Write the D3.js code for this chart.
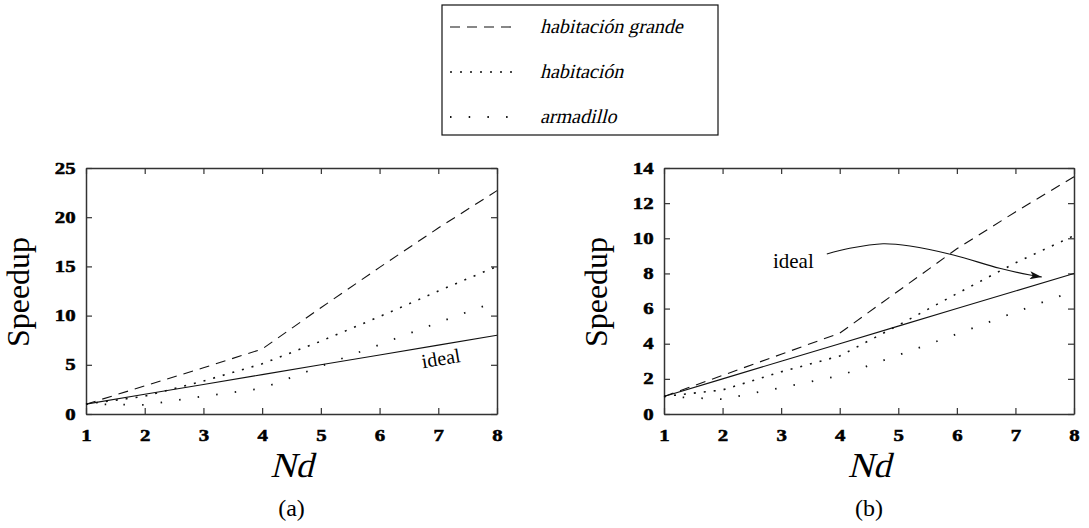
<!DOCTYPE html>
<html>
<head>
<meta charset="utf-8">
<script src="https://cdnjs.cloudflare.com/ajax/libs/d3/7.8.5/d3.min.js"></script>
<style>
    body { margin: 0; background: #fff; }
    svg { display: block; }
    svg text { font-family: "Liberation Serif", "Times New Roman", serif; }
    .frame path.domain { stroke: #333; stroke-width: 1.5; }
    .frame line { stroke: #333; stroke-width: 1.2; }
    .frame text { font-family: "Liberation Serif", serif; font-size: 16px; font-weight: bold;
                  fill: #000; stroke: #000; stroke-width: 0.5; }
</style>
</head>
<body>
<svg id="fig" width="1089" height="528"></svg>
<script>
// Nd values (x axis) shared by both panels
const nd = [1, 2, 3, 4, 5, 6, 7, 8];

// panel (a)
const idealA = [1, 2, 3, 4, 5, 6, 7, 8];
const grandeA = [1, 2.85, 4.7, 6.6, 10.8, 14.9, 18.9, 22.7];
const habA = [1, 1.8, 3.35, 5.1, 7.4, 9.9, 12.5, 15.0];
const armA = [1, 0.93, 1.8, 2.6, 4.85, 7.05, 9.3, 11.45];

// panel (b)
const idealB = [1, 2, 3, 4, 5, 6, 7, 8];
const grandeB = [1, 2.2, 3.4, 4.6, 7.0, 9.4, 11.5, 13.5];
const habB = [1, 1.37, 2.4, 3.3, 5.05, 6.85, 8.6, 10.15];
const armB = [1, 0.84, 1.5, 2.18, 3.35, 4.55, 5.8, 7.0];

const ticksA = [0, 5, 10, 15, 20, 25];
const ticksB = [0, 2, 4, 6, 8, 10, 12, 14];

const legendLabels = ["habitación grande", "habitación", "armadillo"];
const dashes = ["10,7", "2,8", "1.5,17.2"];
const widths = [1.1, 1.6, 1.8];

const svg = d3.select("#fig");

svg.append("defs").append("marker")
    .attr("id", "head")
    .attr("viewBox", "0 0 12 8")
    .attr("refX", 12).attr("refY", 4)
    .attr("markerWidth", 12).attr("markerHeight", 8)
    .attr("markerUnits", "userSpaceOnUse")
    .attr("orient", "auto")
    .append("path").attr("d", "M0,0L12,4L0,8L3,4Z").attr("fill", "#111");

// slanted text (synthetic italic of the serif face)
function slanted(sel, x, y, size, txt, anchor) {
    return sel.append("text")
        .attr("transform", `translate(${x},${y}) skewX(-14)`)
        .attr("text-anchor", anchor || "start")
        .style("font-size", size + "px").text(txt);
}

function panel(cfg) {
    const x = d3.scaleLinear().domain([1, 8]).range(cfg.xr);
    const y = d3.scaleLinear().domain([0, cfg.ymax]).range([414, 168]);
    const g = svg.append("g");

    const bottom = g.append("g").attr("class", "frame")
        .attr("transform", "translate(0,414)")
        .call(d3.axisBottom(x).tickValues(nd).tickFormat(d3.format("d"))
            .tickSizeInner(-6).tickSizeOuter(0).tickPadding(16));
    bottom.selectAll("text").attr("transform", "scale(1.3,1)");

    g.append("g").attr("class", "frame")
        .attr("transform", "translate(0,168)")
        .call(d3.axisTop(x).tickValues(nd).tickSizeInner(-6).tickSizeOuter(0).tickFormat(""));

    const left = g.append("g").attr("class", "frame")
        .attr("transform", `translate(${cfg.xr[0]},0)`)
        .call(d3.axisLeft(y).tickValues(cfg.ticks).tickFormat(d3.format("d"))
            .tickSizeInner(-6).tickSizeOuter(0).tickPadding(8));
    left.selectAll("text").attr("transform", "scale(1.3,1)");

    g.append("g").attr("class", "frame")
        .attr("transform", `translate(${cfg.xr[1]},0)`)
        .call(d3.axisRight(y).tickValues(cfg.ticks).tickSizeInner(-6).tickSizeOuter(0).tickFormat(""));

    const line = d3.line().x((d, i) => x(nd[i])).y(d => y(d));

    g.append("path").datum(cfg.ideal).attr("d", line)
        .attr("fill", "none").attr("stroke", "#111").attr("stroke-width", 1.1);

    cfg.series.forEach((s, k) => {
        g.append("path").datum(s).attr("d", line)
            .attr("fill", "none").attr("stroke", "#111")
            .attr("stroke-width", widths[k])
            .attr("stroke-dasharray", dashes[k]);
    });

    const cx = (cfg.xr[0] + cfg.xr[1]) / 2;
    g.append("text").attr("x", cfg.xr[0] - 64).attr("y", 292)
        .attr("transform", `rotate(-90,${cfg.xr[0] - 64},292)`)
        .attr("text-anchor", "middle").attr("dominant-baseline", "middle")
        .style("font-size", "32px").text("Speedup");
    slanted(g, cx, 477, 35, "Nd", "middle");
    g.append("text").attr("x", cx).attr("y", 516)
        .attr("text-anchor", "middle").style("font-size", "24px")
        .text(cfg.tag);
    return { g, x, y };
}

const pa = panel({ xr: [86, 497], ymax: 25, ticks: ticksA, ideal: idealA,
    series: [grandeA, habA, armA], tag: "(a)" });
const pb = panel({ xr: [664, 1074], ymax: 14, ticks: ticksB, ideal: idealB,
    series: [grandeB, habB, armB], tag: "(b)" });

// "ideal" label in (a), written along the solid line
const angA = Math.atan2(pa.y(0) - pa.y(1), pa.x(2) - pa.x(1)) * 180 / Math.PI;
pa.g.append("text")
    .attr("transform", `translate(${pa.x(7.05)},${pa.y(5.44)}) rotate(${-angA})`)
    .attr("text-anchor", "middle").attr("dominant-baseline", "middle")
    .style("font-size", "20px").text("ideal");

// "ideal" label + arrow in (b)
pb.g.append("text").attr("x", pb.x(2.86)).attr("y", pb.y(8.31))
    .style("font-size", "21px").text("ideal");
const arrowPts = [[3.78, 9.11], [4.17, 9.43], [4.74, 9.69], [5.2, 9.56], [5.94, 9.05], [6.73, 8.29], [7.25, 7.91], [7.45, 7.8]];
pb.g.append("path").datum(arrowPts)
    .attr("d", d3.line().x(d => pb.x(d[0])).y(d => pb.y(d[1])).curve(d3.curveCatmullRom))
    .attr("fill", "none").attr("stroke", "#111").attr("stroke-width", 1.1)
    .attr("marker-end", "url(#head)");

// legend
const lg = svg.append("g");
lg.append("rect").attr("x", 442).attr("y", 5).attr("width", 276).attr("height", 130)
    .attr("fill", "none").attr("stroke", "#111").attr("stroke-width", 1.2);
const rowY = d3.scalePoint().domain(legendLabels).range([27, 117]);
legendLabels.forEach((lab, k) => {
    lg.append("line").attr("x1", 450).attr("x2", 514)
        .attr("y1", rowY(lab)).attr("y2", rowY(lab))
        .attr("stroke", "#111").attr("stroke-width", widths[k])
        .attr("stroke-dasharray", dashes[k]);
    slanted(lg, 540, rowY(lab) + 6, 20, lab);
});
</script>
</body>
</html>
